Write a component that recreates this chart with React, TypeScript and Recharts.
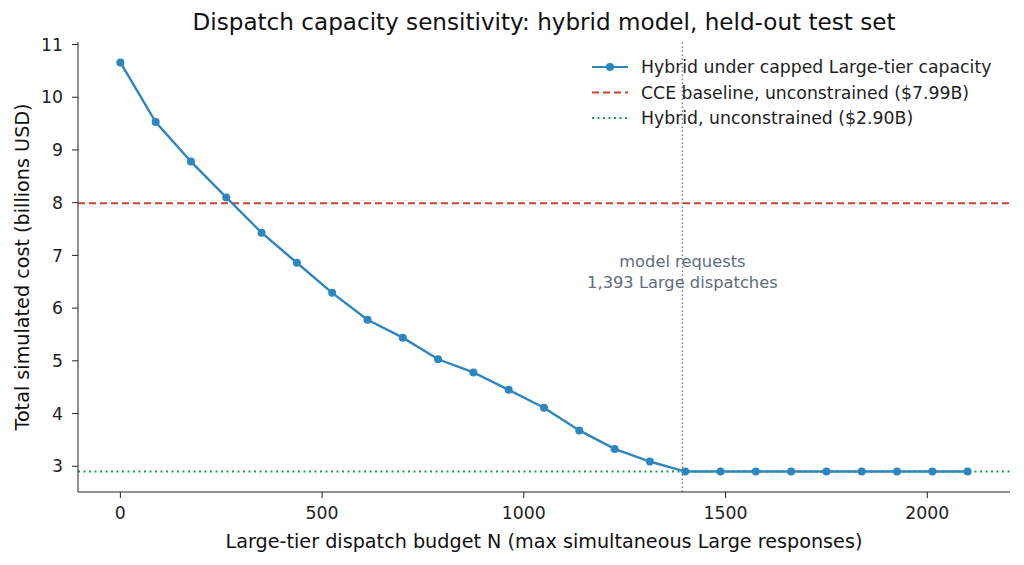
import React from "react";
import {
  ComposedChart,
  Line,
  XAxis,
  YAxis,
  ReferenceLine,
  Customized,
} from "recharts";

const budgets = [
  0, 87.5, 175, 262.5, 350, 437.5, 525, 612.5, 700, 787.5, 875, 962.5, 1050,
  1137.5, 1225, 1312.5, 1400, 1487.5, 1575, 1662.5, 1750, 1837.5, 1925, 2012.5, 2100,
];
const hybridCost = [
  10.66, 9.53, 8.78, 8.1, 7.43, 6.86, 6.29, 5.78, 5.44, 5.03, 4.78, 4.45, 4.11,
  3.68, 3.33, 3.09, 2.9, 2.9, 2.9, 2.9, 2.9, 2.9, 2.9, 2.9, 2.9,
];
const xTicks = [0, 500, 1000, 1500, 2000];
const yTicks = [3, 4, 5, 6, 7, 8, 9, 10, 11];

const cceBaseline = 7.99;
const hybridUnconstrained = 2.9;
const requestedLarge = 1393;

const BLUE = "#2e86c1";
const RED = "#cb4335";
const GREEN = "#229954";
const FONT = "DejaVu Sans, sans-serif";

const data = budgets.map((n, i) => ({ n, cost: hybridCost[i] }));

const legendItems = [
  { label: "Hybrid under capped Large-tier capacity", color: BLUE, dash: undefined, dot: true },
  { label: "CCE baseline, unconstrained ($7.99B)", color: RED, dash: "7 4", dot: false },
  { label: "Hybrid, unconstrained ($2.90B)", color: GREEN, dash: "2 3.5", dot: false },
];

// legend drawn inside the svg so it doesn't eat into the plot area
function LegendBox() {
  return (
    <g fontFamily={FONT} fontSize={17.3} fill="#222">
      {legendItems.map((item, i) => {
        const y = 67 + i * 25.5;
        return (
          <g key={item.label}>
            <line
              x1={592}
              x2={628}
              y1={y}
              y2={y}
              stroke={item.color}
              strokeWidth={2.2}
              strokeDasharray={item.dash}
            />
            {item.dot && <circle cx={610} cy={y} r={4} fill={item.color} />}
            <text x={641} y={y} dominantBaseline="central">
              {item.label}
            </text>
          </g>
        );
      })}
    </g>
  );
}

function AnnotationLabel(props: any) {
  const vb = props.viewBox || {};
  const x = vb.x ?? 0;
  const y = vb.y ?? 0;
  return (
    <text
      x={x}
      textAnchor="middle"
      fontFamily={FONT}
      fontSize={16.3}
      fill="#5d6d7e"
    >
      <tspan x={x} y={y + 225}>model requests</tspan>
      <tspan x={x} y={y + 246}>1,393 Large dispatches</tspan>
    </text>
  );
}

function Texts() {
  return (
    <g fontFamily={FONT} fill="#111">
      <text x={544} y={30} textAnchor="middle" fontSize={23.1}>
        Dispatch capacity sensitivity: hybrid model, held-out test set
      </text>
      <text x={544} y={548} textAnchor="middle" fontSize={19.2}>
        Large-tier dispatch budget N (max simultaneous Large responses)
      </text>
      <text
        x={22}
        y={267}
        textAnchor="middle"
        dominantBaseline="central"
        fontSize={19.2}
        transform="rotate(-90 22 267)"
      >
        Total simulated cost (billions USD)
      </text>
    </g>
  );
}

export default function App() {
  return (
    <div style={{ position: "absolute", left: 0, top: 0, background: "#fff" }}>
      <ComposedChart
        width={1024}
        height={565}
        data={data}
        margin={{ top: 42, right: 14, bottom: 0, left: 0 }}
      >
        <XAxis
          type="number"
          dataKey="n"
          domain={[-105, 2205]}
          ticks={xTicks}
          allowDataOverflow
          height={73}
          tickSize={6}
          tickMargin={9}
          tick={{ fontFamily: FONT, fontSize: 17.3, fill: "#222" }}
          stroke="#222"
        />
        <YAxis
          type="number"
          domain={[2.512, 11.048]}
          ticks={yTicks}
          allowDataOverflow
          width={78}
          tickSize={6}
          tickMargin={9}
          tick={{ fontFamily: FONT, fontSize: 17.3, fill: "#222" }}
          stroke="#222"
        />
        <ReferenceLine y={cceBaseline} stroke={RED} strokeWidth={2} strokeDasharray="7 4" />
        <ReferenceLine
          y={hybridUnconstrained}
          stroke={GREEN}
          strokeWidth={2}
          strokeDasharray="2 3.5"
        />
        <ReferenceLine
          x={requestedLarge}
          stroke="#808080"
          strokeWidth={1.5}
          strokeDasharray="1.5 2.5"
          label={<AnnotationLabel />}
        />
        <Line
          type="linear"
          dataKey="cost"
          stroke={BLUE}
          strokeWidth={2.4}
          dot={{ r: 4, fill: BLUE, stroke: BLUE, strokeWidth: 0 }}
          activeDot={false}
          isAnimationActive={false}
        />
        <Customized component={Texts} />
        <Customized component={LegendBox} />
      </ComposedChart>
    </div>
  );
}
